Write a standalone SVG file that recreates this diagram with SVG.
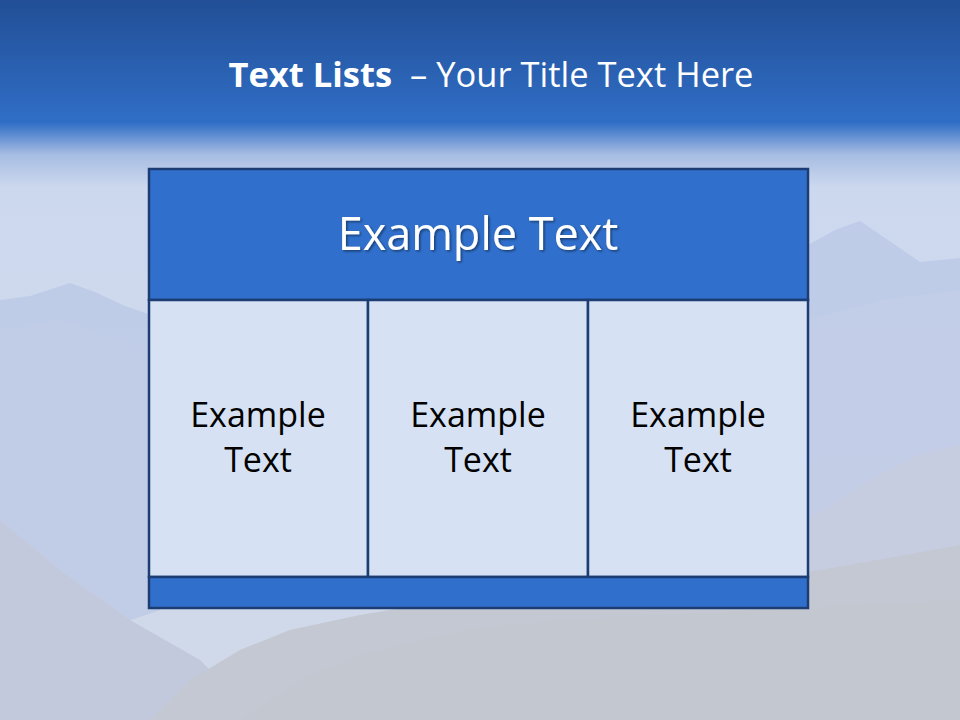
<svg xmlns="http://www.w3.org/2000/svg" width="960" height="720" viewBox="0 0 960 720">
<defs>
<linearGradient id="sky" x1="0" y1="0" x2="0" y2="1" gradientUnits="objectBoundingBox">
<stop offset="0" stop-color="#224f96"/>
<stop offset="0.17" stop-color="#306ec6"/>
<stop offset="0.18" stop-color="#4a7fcc"/>
<stop offset="0.215" stop-color="#a7bde3"/>
<stop offset="0.26" stop-color="#ccd8ee"/>
<stop offset="0.6" stop-color="#d0daed"/>
<stop offset="1" stop-color="#d0d8e8"/>
</linearGradient>
<filter id="sh" x="-10%" y="-20%" width="120%" height="140%">
<feDropShadow dx="1.5" dy="1.5" stdDeviation="1" flood-color="#000" flood-opacity="0.45"/>
</filter>
<style>
.band{fill:#3070cc;stroke:#1c3c74;stroke-width:2.5}
.cell{fill:#d6e2f3;stroke:#1c3c74;stroke-width:2.5}
.t{font-family:"Open Sans","Noto Sans","Liberation Sans",sans-serif;text-anchor:middle}
.cellt{font-size:34px;fill:#000}
</style>
</defs>
<rect width="960" height="720" fill="url(#sky)"/>
<!-- mountains -->
<path d="M0 300 L30 296 L70 283 L95 292 L125 306 L160 318 L160 610 L130 620 L60 570 L0 520 Z" fill="#bcc8e6" opacity="0.8"/>
<path d="M808 245 L835 230 L860 221 L885 238 L920 262 L960 258 L960 720 L808 720 Z" fill="#bcc8e6" opacity="0.8"/>
<path d="M0 330 L60 320 L120 340 L160 360 L160 610 L130 620 L60 570 L0 520 Z" fill="#c2cce6" opacity="0.7"/>
<path d="M808 320 L880 300 L960 290 L960 720 L808 720 Z" fill="#c4cde6" opacity="0.6"/>
<path d="M0 520 L60 570 L130 620 L200 660 L260 720 L0 720 Z" fill="#c2c9dc"/>
<path d="M808 520 L870 480 L920 455 L960 445 L960 720 L808 720 Z" fill="#c6cde0"/>
<path d="M150 720 L190 680 L240 650 L290 630 L360 615 L420 605 L520 598 L620 590 L720 580 L820 570 L900 556 L960 545 L960 720 Z" fill="#c4c8d2"/>
<path d="M240 720 L300 680 L360 655 L420 640 L480 628 L560 620 L960 600 L960 720 Z" fill="#c3c7d0"/>
<!-- title -->
<text x="491" y="87" class="t" font-size="34.5" fill="#fff"><tspan font-weight="bold">Text Lists</tspan><tspan xml:space="preserve">  – Your Title Text Here</tspan></text>
<g id="header">
<rect class="band" x="149" y="169" width="659" height="131"/>
<text x="478" y="250" class="t" font-size="45" fill="#fff" filter="url(#sh)">Example Text</text>
</g>
<g id="cell1">
<rect class="cell" x="149" y="300" width="219" height="277"/>
<text x="258" y="427" class="t cellt">Example</text>
<text x="258" y="472" class="t cellt">Text</text>
</g>
<g id="cell2">
<rect class="cell" x="368" y="300" width="220" height="277"/>
<text x="478" y="427" class="t cellt">Example</text>
<text x="478" y="472" class="t cellt">Text</text>
</g>
<g id="cell3">
<rect class="cell" x="588" y="300" width="220" height="277"/>
<text x="698" y="427" class="t cellt">Example</text>
<text x="698" y="472" class="t cellt">Text</text>
</g>
<g id="footer">
<rect class="band" x="149" y="577" width="659" height="31"/>
</g>
<g id="connectors"/>
</svg>
